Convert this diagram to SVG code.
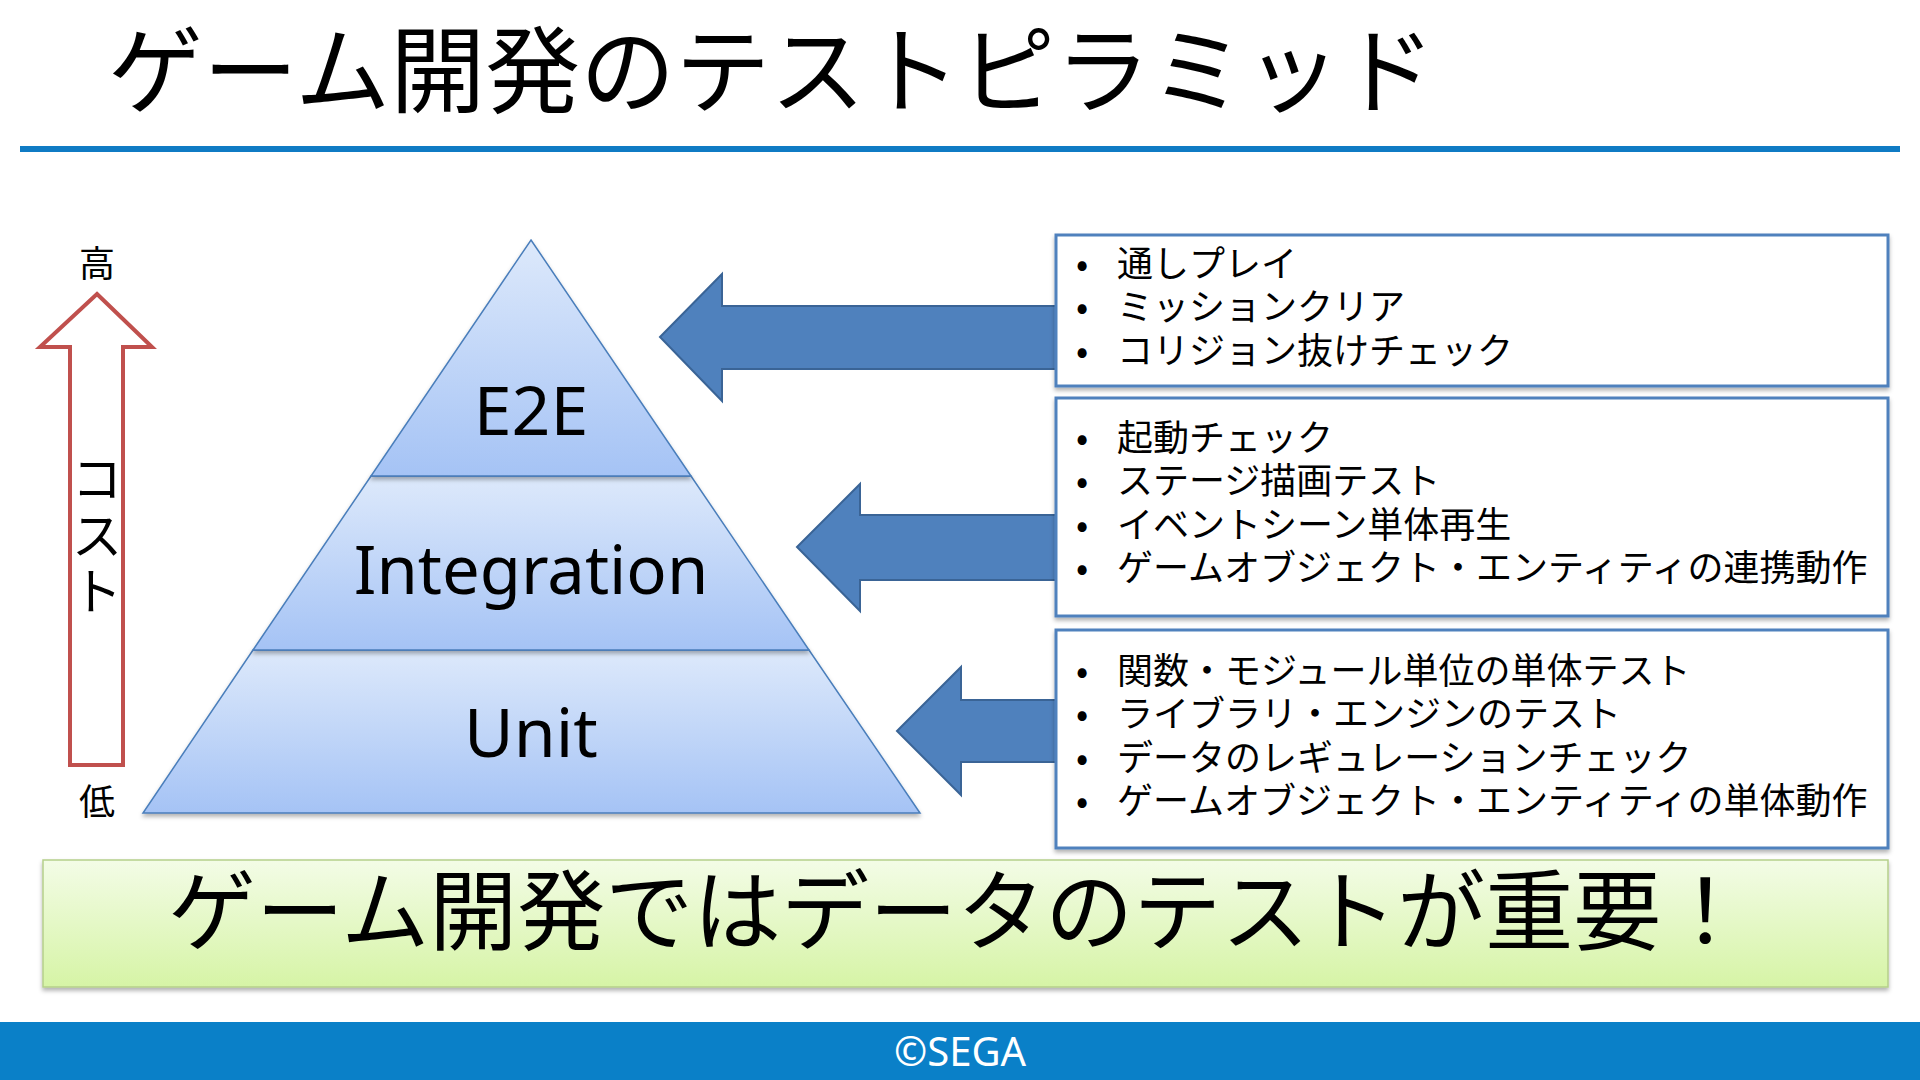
<svg xmlns="http://www.w3.org/2000/svg" width="1920" height="1080" viewBox="0 0 1920 1080">
<style>
.jp{font-family:"Noto Sans CJK JP","Noto Sans",sans-serif;fill:#000}
.lat{font-family:"Noto Sans","DejaVu Sans",sans-serif;fill:#000}
.box{fill:#fff;stroke:#4F81BD;stroke-width:3}
.seg{stroke:#4A7EBB;stroke-width:1.5}
.barrow{fill:#4F81BD;stroke:#3A6496;stroke-width:2}
.item{font-size:36px}
</style>
<defs>
<linearGradient id="pg" x1="0" y1="0" x2="0" y2="1">
<stop offset="0" stop-color="#DDE9FB"/>
<stop offset="1" stop-color="#A5C3F5"/>
</linearGradient>
<linearGradient id="gg" x1="0" y1="0" x2="0" y2="1">
<stop offset="0" stop-color="#F3FCE6"/>
<stop offset="1" stop-color="#D6F4A6"/>
</linearGradient>
<filter id="sh" x="-5%" y="-5%" width="110%" height="115%">
<feDropShadow dx="0" dy="3" stdDeviation="2" flood-color="#000" flood-opacity="0.3"/>
</filter>
</defs>
<rect width="1920" height="1080" fill="#fff"/>

<g id="title">
<text class="jp" x="108" y="106" font-size="95">ゲーム開発のテストピラミッド</text>
<rect x="20" y="146" width="1880" height="6" fill="#0F7BC4"/>
</g>

<g id="cost-axis">
<text class="jp" x="97" y="277" font-size="36" text-anchor="middle">高</text>
<polygon points="97,294 152,347 123,347 123,765 70,765 70,347 40,347" fill="#fff" stroke="#C0504D" stroke-width="4"/>
<text class="jp" x="97" y="497" font-size="50" text-anchor="middle">コ</text>
<text class="jp" x="97" y="554" font-size="50" text-anchor="middle">ス</text>
<text class="jp" x="97" y="610" font-size="50" text-anchor="middle">ト</text>
<text class="jp" x="97" y="815" font-size="36" text-anchor="middle">低</text>
</g>

<g id="connectors">
<polygon class="barrow" points="660,337 722,274 722,306 1056,306 1056,369 722,369 722,401"/>
<polygon class="barrow" points="797,547 860,484 860,515 1056,515 1056,580 860,580 860,611"/>
<polygon class="barrow" points="897,731 961,667 961,700 1056,700 1056,762 961,762 961,795"/>
</g>

<g id="pyramid-unit" filter="url(#sh)">
<polygon class="seg" points="253,650 809,650 920,813 143,813" fill="url(#pg)"/>
<text class="lat" x="531" y="757" font-size="68" text-anchor="middle">Unit</text>
</g>
<g id="pyramid-integration" filter="url(#sh)">
<polygon class="seg" points="371,476 691,476 809,650 253,650" fill="url(#pg)"/>
<text class="lat" x="531" y="594" font-size="67" text-anchor="middle">Integration</text>
</g>
<g id="pyramid-e2e" filter="url(#sh)">
<polygon class="seg" points="531,240 691,476 371,476" fill="url(#pg)"/>
<text class="lat" x="531" y="435" font-size="68" text-anchor="middle">E2E</text>
</g>

<g id="box-e2e">
<rect class="box" x="1056" y="235" width="832" height="151" filter="url(#sh)"/>
<g class="jp item">
<text x="1076" y="277">•</text><text x="1117" y="277">通しプレイ</text>
<text x="1076" y="320">•</text><text x="1117" y="320">ミッションクリア</text>
<text x="1076" y="364">•</text><text x="1117" y="364">コリジョン抜けチェック</text>
</g>
</g>

<g id="box-integration">
<rect class="box" x="1056" y="398" width="832" height="218" filter="url(#sh)"/>
<g class="jp item">
<text x="1076" y="451">•</text><text x="1117" y="451">起動チェック</text>
<text x="1076" y="494">•</text><text x="1117" y="494">ステージ描画テスト</text>
<text x="1076" y="538">•</text><text x="1117" y="538">イベントシーン単体再生</text>
<text x="1076" y="581">•</text><text x="1117" y="581">ゲームオブジェクト・エンティティの連携動作</text>
</g>
</g>

<g id="box-unit">
<rect class="box" x="1056" y="630" width="832" height="218" filter="url(#sh)"/>
<g class="jp item">
<text x="1076" y="684">•</text><text x="1117" y="684">関数・モジュール単位の単体テスト</text>
<text x="1076" y="727">•</text><text x="1117" y="727">ライブラリ・エンジンのテスト</text>
<text x="1076" y="771">•</text><text x="1117" y="771">データのレギュレーションチェック</text>
<text x="1076" y="814">•</text><text x="1117" y="814">ゲームオブジェクト・エンティティの単体動作</text>
</g>
</g>

<g id="conclusion">
<rect x="43" y="860" width="1845" height="127" fill="url(#gg)" stroke="#B5CF8A" stroke-width="1.5" filter="url(#sh)"/>
<text class="jp" x="168" y="943" font-size="88">ゲーム開発ではデータのテストが重要！</text>
</g>

<g id="footer">
<rect x="0" y="1022" width="1920" height="58" fill="#0A80C8"/>
<text x="960" y="1066" font-size="40" text-anchor="middle" font-family="'Noto Sans','DejaVu Sans',sans-serif" fill="#fff">©SEGA</text>
</g>
</svg>
